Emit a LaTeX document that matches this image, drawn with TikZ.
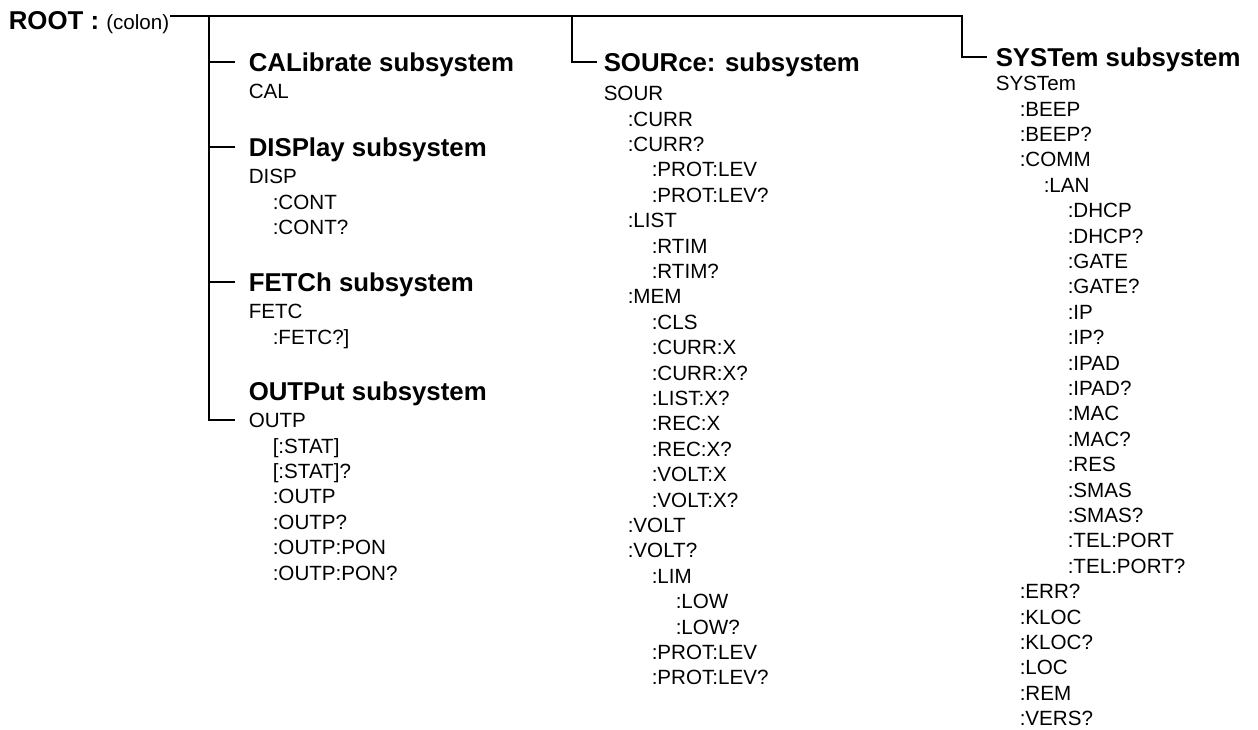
\documentclass[tikz,border=0pt]{standalone}
\usepackage{fontspec}
\setmainfont{Liberation Sans}
\newcommand\inA{\hspace*{12pt}}
\newcommand\inB{\hspace*{24pt}}
\newcommand\inC{\hspace*{36pt}}
\begin{document}
\begin{tikzpicture}[x=0.5pt,y=-0.5pt,line width=0.75pt,
    head/.style={font=\fontsize{12.9}{15}\selectfont\bfseries,anchor=west,
      inner sep=0pt,text height=12.04pt,text depth=2.8pt},
    cmds/.style={font=\fontsize{10.3}{12.7}\selectfont,anchor=north west,
      align=left,inner sep=0pt}]
  \useasboundingbox (0,0) rectangle (1258,729);
  \node[anchor=base east,inner sep=0pt] (root) at (170,29.4)
    {\fontsize{12.9}{15}\selectfont\bfseries ROOT :\ \fontsize{10.3}{12.7}\selectfont\mdseries (colon)};
  % left column
  \node[head] (cal) at (248,62) {CALibrate subsystem};
  \node[cmds] (calcmd) at (248,83.6) {CAL};
  \node[head] (disp) at (248,147) {DISPlay subsystem};
  \node[cmds] (dispcmd) at (248,168.6) {DISP\\\inA:CONT\\\inA:CONT?};
  \node[head] (fetc) at (248,282) {FETCh subsystem};
  \node[cmds] (fetccmd) at (248,303.6) {FETC\\\inA:FETC?]};
  \node[head] (outp) at (248,391) {OUTPut subsystem};
  \node[cmds] (outpcmd) at (248,412.6) {OUTP\\\inA[:STAT]\\\inA[:STAT]?\\\inA:OUTP\\
    \inA:OUTP?\\\inA:OUTP:PON\\\inA:OUTP:PON?};
  % source
  \node[head] (sour) at (603,62) {SOURce: subsystem};
  \node[cmds] (sourcmd) at (603,85.6) {SOUR\\\inA:CURR\\\inA:CURR?\\\inB:PROT:LEV\\
    \inB:PROT:LEV?\\\inA:LIST\\\inB:RTIM\\\inB:RTIM?\\\inA:MEM\\\inB:CLS\\\inB:CURR:X\\
    \inB:CURR:X?\\\inB:LIST:X?\\\inB:REC:X\\\inB:REC:X?\\\inB:VOLT:X\\\inB:VOLT:X?\\
    \inA:VOLT\\\inA:VOLT?\\\inB:LIM\\\inC:LOW\\\inC:LOW?\\\inB:PROT:LEV\\\inB:PROT:LEV?};
  % system
  \node[head] (syst) at (995,57) {SYSTem subsystem};
  \node[cmds] (systcmd) at (995,75.6) {SYSTem\\\inA:BEEP\\\inA:BEEP?\\\inA:COMM\\
    \inB:LAN\\\inC:DHCP\\\inC:DHCP?\\\inC:GATE\\\inC:GATE?\\\inC:IP\\\inC:IP?\\
    \inC:IPAD\\\inC:IPAD?\\\inC:MAC\\\inC:MAC?\\\inC:RES\\\inC:SMAS\\\inC:SMAS?\\
    \inC:TEL:PORT\\\inC:TEL:PORT?\\\inA:ERR?\\\inA:KLOC\\\inA:KLOC?\\\inA:LOC\\
    \inA:REM\\\inA:VERS?};
  % tree lines
  \coordinate (rootend) at (170,16);
  \coordinate (jA) at (209,16);
  \coordinate (jB) at (572,16);
  \coordinate (jC) at (962,16);
  \draw (rootend) -- (jC) |- ([xshift=-4pt]syst.west);
  \draw (jB) |- ([xshift=-3pt]sour.west);
  \draw (jA) |- ([xshift=-6.5pt,yshift=-3.7pt]outpcmd.north west);
  \draw ([xshift=-6.5pt]cal.west) -- +(-13pt,0);
  \draw ([xshift=-6.5pt]disp.west) -- +(-13pt,0);
  \draw ([xshift=-6.5pt]fetc.west) -- +(-13pt,0);
\end{tikzpicture}
\end{document}
